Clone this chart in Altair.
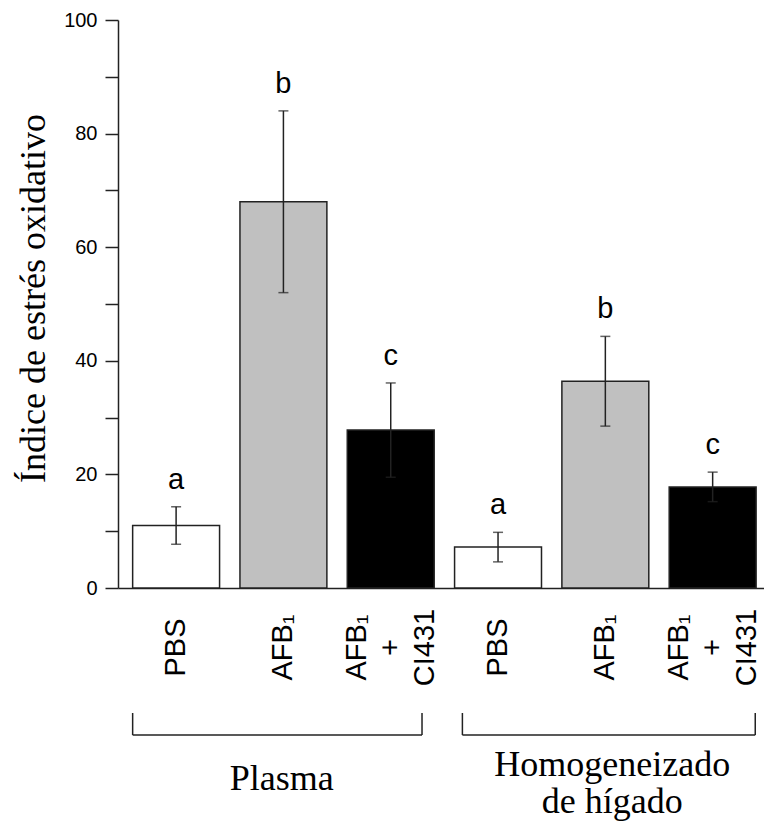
import altair as alt
import pandas as pd

# Bar data: one entry per treatment, grouped by sample type
group_codes = ["P", "P", "P", "H", "H", "H"]
treatments = ["PBS", "AFB₁", "AFB₁/+/CI431", "PBS", "AFB₁", "AFB₁/+/CI431"]
kinds = ["PBS", "AFB1", "AFB1+CI431", "PBS", "AFB1", "AFB1+CI431"]
means = [11.0, 68.0, 27.8, 7.2, 36.4, 17.8]
errors = [3.3, 16.0, 8.3, 2.6, 7.9, 2.6]
letters = ["a", "b", "c", "a", "b", "c"]

# Group brackets and their captions
group_names = ["Plasma", "Homogeneizado\nde hígado"]
group_first = ["P|PBS", "H|PBS"]
group_mid = ["P|AFB₁", "H|AFB₁"]
group_last = ["P|AFB₁/+/CI431", "H|AFB₁/+/CI431"]

keys = [f"{g}|{t}" for g, t in zip(group_codes, treatments)]

df = pd.DataFrame({
    "key": keys,
    "kind": kinds,
    "mean": means,
    "lo": [m - e for m, e in zip(means, errors)],
    "hi": [m + e for m, e in zip(means, errors)],
    "letter": letters,
})
groups_df = pd.DataFrame({
    "label": group_names,
    "start": group_first,
    "mid": group_mid,
    "end": group_last,
})

INK = "#222222"
SANS = "Liberation Sans"
SERIF = "Liberation Serif"
LABEL_LH = 34

x_scale = alt.Scale(domain=keys, paddingInner=0.19, paddingOuter=0.105, align=0.65)
y_scale = alt.Scale(domain=[0, 100], nice=False)

# Rotated category labels; three-line labels are shifted so the middle line
# sits on the bar centre.
x_axis = alt.Axis(
    orient="bottom",
    title=None,
    labelExpr="split(split(datum.value, '|')[1], '/')",
    labelAngle=270,
    labelAlign="center",
    labelBaseline="middle",
    labelPadding=59,
    labelOffset={"condition": {"test": "indexof(datum.value, '/') >= 0",
                               "value": -LABEL_LH},
                 "value": 0},
    ticks=False,
    tickSize=0,
    grid=False,
    labelFont=SANS,
    labelFontSize=29,
    labelLineHeight=LABEL_LH,
    labelColor="black",
    labelOverlap=False,
    labelLimit=0,
    domainColor=INK,
    domainWidth=1.5,
)
y_axis = alt.Axis(
    title="Índice de estrés oxidativo",
    values=list(range(0, 101, 10)),
    labelExpr="datum.value % 20 == 0 ? datum.label : ''",
    grid=False,
    tickSize=13,
    tickColor=INK,
    tickWidth=1.5,
    domainColor=INK,
    domainWidth=1.5,
    labelFont=SANS,
    labelFontSize=20,
    labelPadding=8,
    labelColor="black",
    titleFont=SERIF,
    titleFontSize=36,
    titleFontWeight="normal",
    titleColor="black",
    titleAngle=270,
    titleAlign="center",
    titleBaseline="alphabetic",
    titleX=-74,
    titleY=278,
)

base = alt.Chart(df)

bars = base.mark_bar(stroke=INK, strokeWidth=1.5).encode(
    x=alt.X("key:N", scale=x_scale, axis=x_axis),
    y=alt.Y("mean:Q", scale=y_scale, axis=y_axis),
    fill=alt.Fill(
        "kind:N",
        scale=alt.Scale(domain=["PBS", "AFB1", "AFB1+CI431"],
                        range=["#ffffff", "#c0c0c0", "#000000"]),
        legend=None,
    ),
)

err = base.mark_rule(color=INK, strokeWidth=1.5).encode(
    x=alt.X("key:N", axis=x_axis),
    y="lo:Q",
    y2="hi:Q",
)
cap_hi = base.mark_tick(color=INK, thickness=1.5, size=10).encode(
    x=alt.X("key:N", axis=x_axis), y="hi:Q"
)
cap_lo = base.mark_tick(color=INK, thickness=1.5, size=10).encode(
    x=alt.X("key:N", axis=x_axis), y="lo:Q"
)
sig = base.mark_text(font=SANS, fontSize=29, baseline="alphabetic", dy=-18,
                     color="black").encode(
    x=alt.X("key:N", axis=x_axis), y="hi:Q", text="letter:N"
)


def bracket(i, start_pos, end_pos, text_pos, text_y):
    """Bracket under one sample group, with its caption."""
    g = alt.Chart(groups_df.iloc[[i]])
    line = g.mark_rule(color=INK, strokeWidth=1.5).encode(
        x=alt.X("start:N", bandPosition=start_pos, axis=x_axis),
        x2=alt.X2("end", bandPosition=end_pos),
        y=alt.value(715),
    )
    left = g.mark_rule(color=INK, strokeWidth=1.5).encode(
        x=alt.X("start:N", bandPosition=start_pos, axis=x_axis),
        y=alt.value(693),
        y2=alt.value(715),
    )
    right = g.mark_rule(color=INK, strokeWidth=1.5).encode(
        x=alt.X("end:N", bandPosition=end_pos, axis=x_axis),
        y=alt.value(693),
        y2=alt.value(715),
    )
    caption = g.mark_text(font=SERIF, fontSize=36, baseline="alphabetic",
                          align="center", lineBreak="\n", lineHeight=37,
                          color="black").encode(
        x=alt.X("mid:N", bandPosition=text_pos, axis=x_axis),
        y=alt.value(text_y),
        text="label:N",
    )
    return [line, left, right, caption]


layers = [bars, err, cap_hi, cap_lo, sig]
layers += bracket(0, 0.0, 0.86, 0.48, 770)
layers += bracket(1, 0.09, 0.99, 0.58, 756)

chart = (
    alt.layer(*layers)
    .properties(
        width=646,
        height=568,
        autosize=alt.AutoSizeParams(type="none"),
        padding={"left": 118, "top": 20, "right": 0, "bottom": 238},
    )
    .configure(background="white")
    .configure_view(strokeWidth=0, stroke="transparent")
)

chart.save("out.html", embed_options={"renderer": "svg", "actions": False})
